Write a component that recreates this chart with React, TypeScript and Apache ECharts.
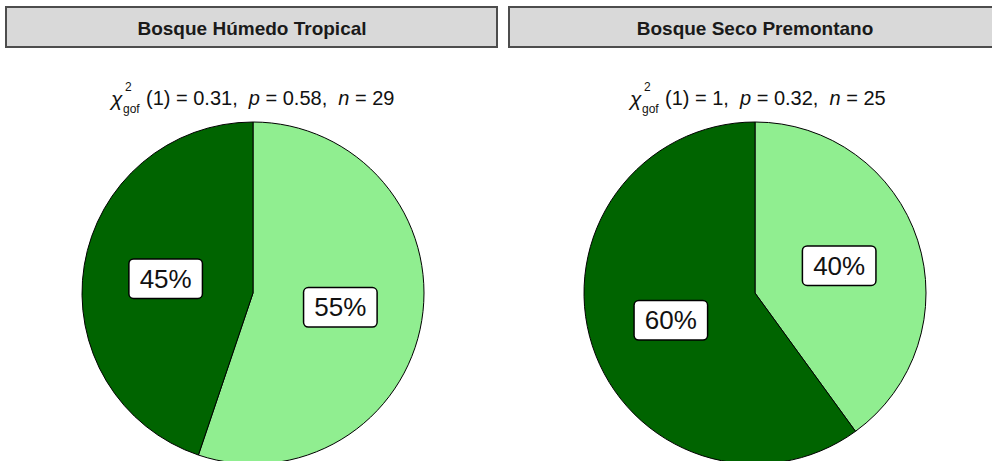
import React, { useEffect, useRef } from "react";
import * as echarts from "echarts";

// Panel titles (forest type)
const panels = ["Bosque Húmedo Tropical", "Bosque Seco Premontano"];
// Category names per slice, in drawing order (clockwise from 12 o'clock)
const categories = ["Categoría 1", "Categoría 2"];
// Observed counts per panel
const countsHumedo = [16, 13];
const countsSeco = [10, 15];
// Goodness-of-fit statistics per panel
const chiValues = ["0.31", "1"];
const pValues = ["0.58", "0.32"];
const nValues = [29, 25];

const sliceColors = ["#90EE90", "#006400"];
const FONT = "'Liberation Sans', Arial, sans-serif";

export default function App() {
  const ref = useRef<HTMLDivElement>(null);

  useEffect(() => {
    if (!ref.current) return;
    const chart = echarts.init(ref.current, undefined, { renderer: "svg" });

    const centers: [number, number][] = [
      [253, 293],
      [755, 293],
    ];
    const stripBoxes = [
      { x: 6, w: 491, cx: 252 },
      { x: 509, w: 490, cx: 755 },
    ];
    const subtitleStart = [111, 630];
    const allCounts = [countsHumedo, countsSeco];

    const graphics: any[] = [];
    panels.forEach((title, i) => {
      const b = stripBoxes[i];
      graphics.push({
        type: "rect",
        shape: { x: b.x, y: 7, width: b.w, height: 40 },
        style: { fill: "#d9d9d9", stroke: "#4d4d4d", lineWidth: 2 },
      });
      graphics.push({
        type: "text",
        x: b.cx,
        y: 28,
        style: {
          text: title,
          font: `bold 19px ${FONT}`,
          fill: "#1a1a1a",
          align: "center",
          verticalAlign: "middle",
        },
      });
      // χ² with "gof" subscript, then the statistics line
      const sx = subtitleStart[i];
      graphics.push({
        type: "text",
        x: sx,
        y: 98,
        style: {
          text: "χ",
          font: `italic 21px ${FONT}`,
          fill: "#111",
          verticalAlign: "middle",
        },
      });
      graphics.push({
        type: "text",
        x: sx + 14,
        y: 87,
        style: {
          text: "2",
          font: `12px ${FONT}`,
          fill: "#111",
          verticalAlign: "middle",
        },
      });
      graphics.push({
        type: "text",
        x: sx + 12,
        y: 109,
        style: {
          text: "gof",
          font: `12px ${FONT}`,
          fill: "#111",
          verticalAlign: "middle",
        },
      });
      graphics.push({
        type: "text",
        x: sx + 35,
        y: 98,
        style: {
          text: `{n|(1) = ${chiValues[i]},  }{i|p}{n| = ${pValues[i]},  }{i|n}{n| = ${nValues[i]}}`,
          fill: "#111",
          verticalAlign: "middle",
          rich: {
            n: { font: `20px ${FONT}`, fill: "#111" },
            i: { font: `italic 20px ${FONT}`, fill: "#111" },
          },
        },
      });
    });

    const series = allCounts.map((counts, i) => {
      const total = counts.reduce((a, b) => a + b, 0);
      return {
        type: "pie",
        center: centers[i],
        radius: 171,
        startAngle: 90,
        clockwise: true,
        silent: true,
        data: counts.map((v, k) => ({
          name: categories[k],
          value: v,
          itemStyle: { color: sliceColors[k] },
        })),
        itemStyle: { borderColor: "#000", borderWidth: 1 },
        label: {
          show: true,
          position: "inside",
          formatter: (p: any) => `${Math.round((p.value / total) * 100)}%`,
          fontFamily: FONT,
          fontSize: 26,
          color: "#111",
          backgroundColor: "#ffffff",
          borderColor: "#000",
          borderWidth: 1.5,
          borderRadius: 4,
          padding: [7, 10, 5, 10],
        },
        labelLine: { show: false },
      };
    });

    chart.setOption({
      animation: false,
      backgroundColor: "#ffffff",
      graphic: graphics,
      series,
    });

    return () => chart.dispose();
  }, []);

  return (
    <div
      ref={ref}
      style={{ position: "fixed", left: 0, top: 0, width: 992, height: 461 }}
    />
  );
}
